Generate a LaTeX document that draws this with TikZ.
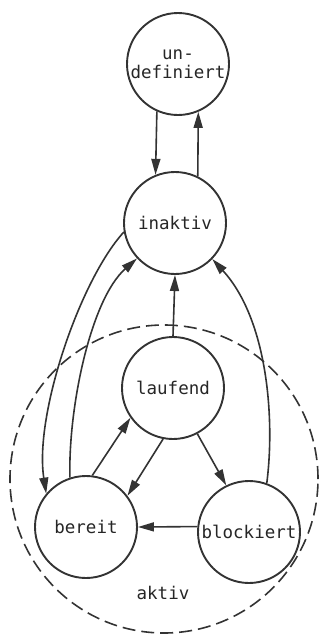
\documentclass[tikz,border=0pt]{standalone}
\usepackage{fontspec}
\setmonofont{DejaVu Sans Mono}
\usetikzlibrary{arrows.meta}
\begin{document}
\begin{tikzpicture}[x=1pt,y=-1pt,
 state/.style={circle,draw=black!80,line width=1.9pt,minimum size=102pt,inner sep=0pt,
   font=\ttfamily\fontsize{17.5}{19}\selectfont,align=center,text=black!85},
 conn/.style={draw=black!80,line width=1.6pt,-{Triangle[length=16pt,width=9pt]}},
 region/.style={draw=black!80,line width=1.6pt,dash pattern=on 13pt off 6pt},
 lbl/.style={font=\ttfamily\fontsize{17.5}{19}\selectfont,text=black!85,inner sep=0pt}
]
\useasboundingbox (0,0) rectangle (320,635);
\draw[region] (164,479) ellipse [x radius=154pt, y radius=154pt];
\node[lbl] (aktiv) at (163,593) {aktiv};
\node[state] (u) at (178,64) {un-\\definiert};
\node[state] (i) at (175,223) {inaktiv};
\node[state] (l) at (173,388) {laufend};
\node[state] (b) at (86,527) {bereit};
\node[state] (k) at (249,532) {blockiert};
\draw[conn] (u.-114) -- (i.112);
\draw[conn] (i.64) -- (u.-67);
\draw[conn] (l.north) -- (i.south);
\draw[conn] (i.190) .. controls (80,280) and (34,415) .. (b.140);
\draw[conn] (b.108) .. controls (68,410) and (90,300) .. (i.223);
\draw[conn] (k.70) .. controls (275,420) and (268,320) .. (i.-44);
\draw[conn] (b.83) -- (l.215);
\draw[conn] (l.259) -- (b.37);
\draw[conn] (l.298) -- (k.116);
\draw[conn] (k.174) -- (b.0);
\end{tikzpicture}
\end{document}
